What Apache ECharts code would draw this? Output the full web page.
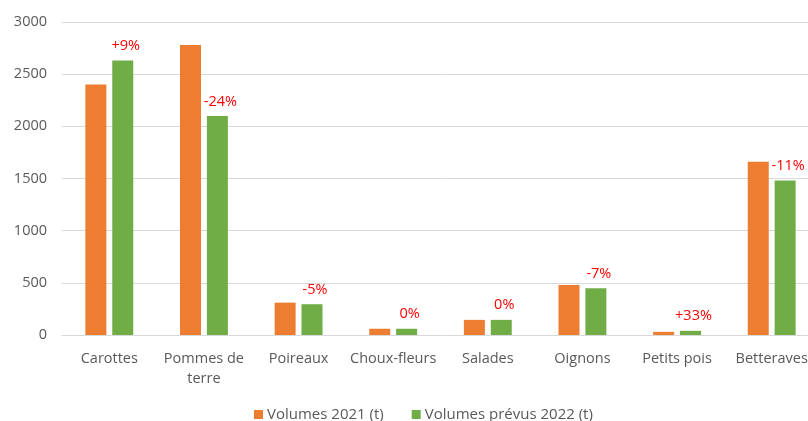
<!DOCTYPE html>
<html><head><meta charset="utf-8">
<script src="https://cdn.jsdelivr.net/npm/echarts@6/dist/echarts.min.js"></script>
<style>html,body{margin:0;padding:0;background:#fff;overflow:hidden}#c{width:840px;height:421px}</style>
</head><body><div id="c"></div>
<script>
const categories = ['Carottes','Pommes de\nterre','Poireaux','Choux-fleurs','Salades','Oignons','Petits pois','Betteraves'];
const volumes2021 = [2400, 2780, 310, 60, 145, 480, 30, 1660];
const volumes2022 = [2630, 2100, 295, 60, 145, 447, 40, 1480];
const pctLabels = ['+9%','-24%','-5%','0%','0%','-7%','+33%','-11%'];
const yTicks = {min: 0, max: 3000, interval: 500};
const seriesNames = ['Volumes 2021 (t)', 'Volumes prévus 2022 (t)'];

const font = '"Open Sans", "Noto Sans", sans-serif';
const chart = echarts.init(document.getElementById('c'));
chart.setOption({
  animation: false,
  textStyle: {fontFamily: font},
  grid: {left: 62, top: 22, bottom: 86, width: 757, containLabel: false},
  legend: {
    top: 402, left: 249, itemWidth: 9, itemHeight: 9, itemGap: 28,
    icon: 'rect',
    textStyle: {color: '#595959', fontSize: 15, fontFamily: font, padding: [0, 0, 0, -1]},
    data: seriesNames
  },
  xAxis: {
    type: 'category', data: categories,
    axisLine: {lineStyle: {color: '#D9D9D9', width: 1}},
    axisTick: {show: false},
    axisLabel: {color: '#595959', fontSize: 14.5, margin: 14, lineHeight: 20, interval: 0, fontFamily: font}
  },
  yAxis: {
    type: 'value', min: yTicks.min, max: yTicks.max, interval: yTicks.interval,
    axisLine: {show: false}, axisTick: {show: false},
    axisLabel: {color: '#595959', fontSize: 14.5, margin: 15, fontFamily: font, formatter: v => String(v)},
    splitLine: {lineStyle: {color: '#D9D9D9', width: 1}}
  },
  series: [
    {name: seriesNames[0], type: 'bar', data: volumes2021, barWidth: 21, barGap: '28%',
     itemStyle: {color: '#ED7D31'}},
    {name: seriesNames[1], type: 'bar', data: volumes2022, barWidth: 21,
     itemStyle: {color: '#70AD47'},
     label: {show: true, position: 'top', distance: 7, offset: [3, 0], color: '#FF0000', fontSize: 14.5, fontFamily: font,
       formatter: p => pctLabels[p.dataIndex]}}
  ]
});
</script></body></html>
